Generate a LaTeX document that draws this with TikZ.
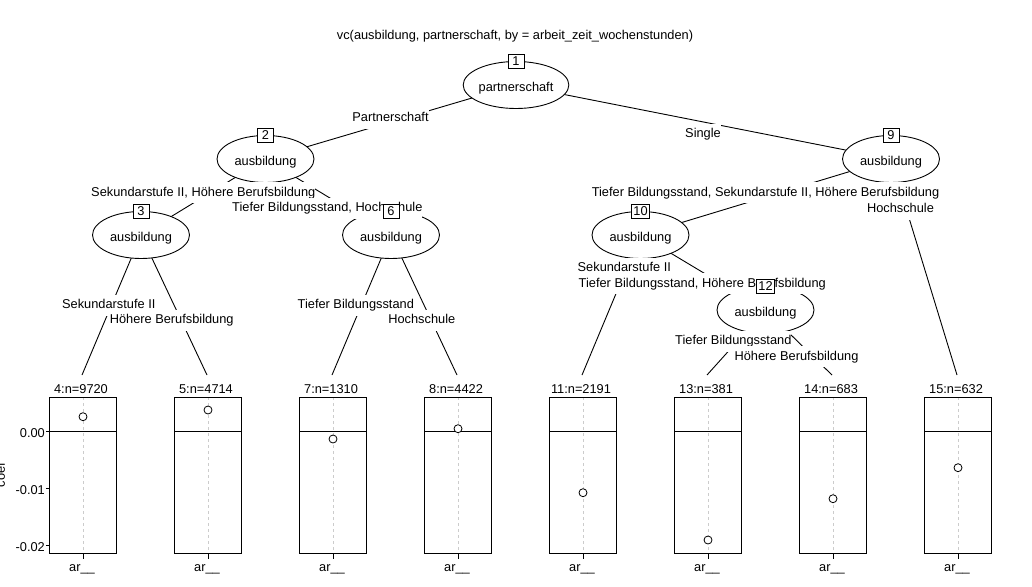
\documentclass[tikz,border=0pt]{standalone}
\usepackage{fontspec}
\setmainfont{Liberation Sans}
\usetikzlibrary{shapes.geometric}
\pgfdeclarelayer{bg}
\pgfsetlayers{bg,main}
\definecolor{guide}{HTML}{CCCCCC}
\begin{document}
\begin{tikzpicture}[x=1pt,y=-1pt,
  font=\fontsize{12.8}{15}\selectfont,
  inner/.style={ellipse,draw,fill=white,minimum width=97pt,minimum height=47pt,inner sep=0pt,line width=0.9pt,text height=15pt,text depth=2.7pt},
  idbox/.style={draw,fill=white,minimum width=16pt,minimum height=14pt,inner xsep=2pt,inner ysep=0pt,text height=9.2pt,text depth=0pt,line width=0.9pt},
  elab/.style={fill=white,inner xsep=0pt,inner ysep=4.5pt,text height=9.3pt,text depth=2.7pt,anchor=base},
  edge/.style={line width=0.9pt},
  plain/.style={inner sep=0pt,anchor=base},
  panel/.style={draw,line width=0.9pt,minimum width=67pt,minimum height=156pt,inner sep=0pt},
  mean/.style={circle,draw,fill=white,minimum size=8pt,inner sep=0pt,line width=0.8pt}
]
\useasboundingbox (0,0) rectangle (1032,586);

% title
\node[plain] (title) at (515,39.8) {vc(ausbildung, partnerschaft, by = arbeit\_zeit\_wochenstunden)};

% inner nodes
\node[inner] (n1) at (516,85) {partnerschaft};
\node[inner] (n2) at (265.5,159) {ausbildung};
\node[inner] (n3) at (141,235) {ausbildung};
\node[inner] (n6) at (391,235) {ausbildung};
\node[inner] (n9) at (891,159) {ausbildung};
\node[inner] (n10) at (640.5,235) {ausbildung};
\node[inner] (n12) at (765.5,310) {ausbildung};

% terminal panels
\foreach \id/\cx/\n/\py in {4/83/9720/416.7, 5/208/4714/410, 7/333/1310/439, 8/458/4422/428.7, 11/583/2191/492.7, 13/708/381/540, 14/833/683/498.7, 15/958/632/467.7}{
  \draw[guide,line width=0.7pt,dash pattern=on 3pt off 3pt] (\cx,397.3) -- (\cx,553.3);
  \draw[line width=0.9pt] (\cx-33.5,431.3) -- (\cx+33.5,431.3);
  \node[panel] (p\id) at (\cx,475.3) {};
  \draw[line width=0.9pt] (p\id.south) -- ++(0,5);
  \node[plain] (l\id) at (\cx-2,393.3) {\id:n=\n};
  \node[plain] (x\id) at (\cx-1,571) {ar\_\_};
  \node[mean] (m\id) at (\cx,\py) {};
  \coordinate (t\id) at (\cx-1,375);
}

% y axis
\foreach \yy/\lab in {431.3/0.00, 488.3/-0.01, 545.3/-0.02}{
  \draw[line width=0.9pt] (45.8,\yy) -- (49.5,\yy);
  \node[inner sep=0pt,anchor=base east] at (45,\yy+6.4) {\lab};
}
\node[rotate=90,inner sep=0pt,anchor=base] (ylab) at (5,475) {coef};

% edges
\begin{pgfonlayer}{bg}
\draw[edge] (n1.center) -- (n2.center);
\draw[edge] (n1.center) -- (n9.center);
\draw[edge] (n2.center) -- (n3.center);
\draw[edge] (n2.center) -- (n6.center);
\draw[edge] (n3.center) -- (t4);
\draw[edge] (n3.center) -- (t5);
\draw[edge] (n6.center) -- (t7);
\draw[edge] (n6.center) -- (t8);
\draw[edge] (n9.center) -- (n10.center);
\draw[edge] (n9.center) -- (t15);
\draw[edge] (n10.center) -- (t11);
\draw[edge] (n10.center) -- (n12.center);
\draw[edge] (n12.center) -- (t13);
\draw[edge] (n12.center) -- (t14);
\end{pgfonlayer}

% edge labels
\node[elab] (e2) at (390.5,121.5) {Partnerschaft};
\node[elab] (e9) at (703,137.5) {Single};
\node[elab] (e3) at (203.3,196.2) {Sekundarstufe II, Höhere Berufsbildung};
\node[elab] (e6) at (327.3,211.5) {Tiefer Bildungsstand, Hochschule};
\node[elab] (e4) at (108.8,308.5) {Sekundarstufe II};
\node[elab] (e5) at (171.7,323.8) {Höhere Berufsbildung};
\node[elab] (e7) at (355.8,308.5) {Tiefer Bildungsstand};
\node[elab] (e8) at (421.8,323.8) {Hochschule};
\node[elab] (e10) at (765.5,196.2) {Tiefer Bildungsstand, Sekundarstufe II, Höhere Berufsbildung};
\node[elab] (e15) at (900.5,212.5) {Hochschule};
\node[elab] (e11) at (624.3,271.5) {Sekundarstufe II};
\node[elab] (e12) at (702.3,287) {Tiefer Bildungsstand, Höhere Berufsbildung};
\node[elab] (e13) at (733.3,344.5) {Tiefer Bildungsstand};
\node[elab] (e14) at (796.5,360) {Höhere Berufsbildung};

% id boxes
\node[idbox] (b1) at (n1.north) {1};
\node[idbox] (b2) at (n2.north) {2};
\node[idbox] (b3) at (n3.north) {3};
\node[idbox] (b6) at (n6.north) {6};
\node[idbox] (b9) at (n9.north) {9};
\node[idbox] (b10) at (n10.north) {10};
\node[idbox] (b12) at (n12.north) {12};
\end{tikzpicture}
\end{document}
